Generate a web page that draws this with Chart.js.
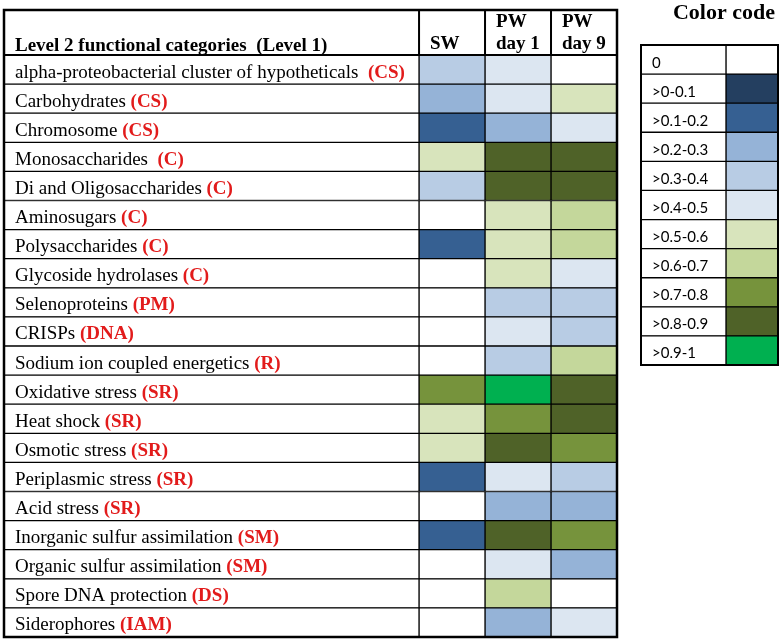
<!DOCTYPE html>
<html>
<head>
<meta charset="utf-8">
<script src="https://cdn.jsdelivr.net/npm/chart.js@4"></script>
<style>
  html, body { margin: 0; padding: 0; background: #fff; }
  #wrap { position: relative; width: 784px; height: 643px; }
  #chart-table { position: absolute; left: 0; top: 0; }
  #chart-key { position: absolute; left: 636px; top: 40px; }
</style>
</head>
<body>
<div id="wrap">
  <canvas id="chart-table" width="784" height="643"></canvas>
  <canvas id="chart-key" width="146" height="330"></canvas>
</div>
<script>
/* heatmap table: level 2 functional categories vs sample */

const rowNames = [
  'alpha-proteobacterial cluster of hypotheticals  ',
  'Carbohydrates ',
  'Chromosome ',
  'Monosaccharides  ',
  'Di and Oligosaccharides ',
  'Aminosugars ',
  'Polysaccharides ',
  'Glycoside hydrolases ',
  'Selenoproteins ',
  'CRISPs ',
  'Sodium ion coupled energetics ',
  'Oxidative stress ',
  'Heat shock ',
  'Osmotic stress ',
  'Periplasmic stress ',
  'Acid stress ',
  'Inorganic sulfur assimilation ',
  'Organic sulfur assimilation ',
  'Spore DNA protection ',
  'Siderophores '
];
const rowLevels = ['CS', 'CS', 'CS', 'C', 'C', 'C', 'C', 'C', 'PM', 'DNA', 'R',
  'SR', 'SR', 'SR', 'SR', 'SR', 'SM', 'SM', 'DS', 'IAM'];

const headerTitle = 'Level 2 functional categories  (Level 1)';
const columnHeaders = [['SW'], ['PW', 'day 1'], ['PW', 'day 9']];

// estimated fractions (mid of each colour bin)
const swValues  = [0.35, 0.25, 0.15, 0.55, 0.35, 0, 0.15, 0, 0, 0, 0, 0.75, 0.55, 0.55, 0.15, 0, 0.15, 0, 0, 0];
const pw1Values = [0.45, 0.45, 0.25, 0.85, 0.85, 0.55, 0.55, 0.55, 0.35, 0.45, 0.35, 0.95, 0.75, 0.85, 0.45, 0.25, 0.85, 0.45, 0.65, 0.25];
const pw9Values = [0, 0.55, 0.45, 0.85, 0.85, 0.65, 0.65, 0.45, 0.35, 0.35, 0.65, 0.85, 0.85, 0.75, 0.35, 0.25, 0.75, 0.25, 0, 0.45];

const keyTitle = 'Color code';
const binLabels = ['0', '>0-0.1', '>0.1-0.2', '>0.2-0.3', '>0.3-0.4', '>0.4-0.5',
  '>0.5-0.6', '>0.6-0.7', '>0.7-0.8', '>0.8-0.9', '>0.9-1'];
const binColors = ['#FFFFFF', '#243F60', '#366092', '#95B3D7', '#B8CCE4', '#DCE6F1',
  '#D8E4BC', '#C4D79B', '#76933C', '#4F6228', '#00B050'];

const SERIF = "'Liberation Serif', 'Times New Roman', serif";
const RED = '#E21B1B';
const LABEL_COL = -6.29;   // width of the name column in data-column units

function colorFor(v) {
  if (v <= 0) return binColors[0];
  return binColors[Math.min(10, Math.ceil(v * 10 - 1e-9))];
}

function cellDataset(values, col) {
  return {
    data: values.map(() => [col, col + 1]),
    backgroundColor: values.map(colorFor),
    borderColor: '#000',
    borderWidth: 1,
    borderSkipped: false,
    grouped: false,
    barPercentage: 1,
    categoryPercentage: 1
  };
}

const tableDecor = {
  id: 'tableDecor',
  afterDatasetsDraw(chart) {
    const { ctx, chartArea: { left, right, top, bottom }, scales: { x, y } } = chart;
    const tableTop = 10;
    ctx.save();
    ctx.strokeStyle = '#000';
    ctx.lineWidth = 2.5;
    ctx.strokeRect(left, tableTop, right - left, bottom - tableTop);
    ctx.lineWidth = 2;
    ctx.beginPath();
    ctx.moveTo(left, top); ctx.lineTo(right, top);
    [0, 1, 2].forEach(c => {
      const px = x.getPixelForValue(c);
      ctx.moveTo(px, tableTop); ctx.lineTo(px, top);
    });
    ctx.stroke();

    // header
    ctx.fillStyle = '#000';
    ctx.textBaseline = 'alphabetic';
    ctx.font = 'bold 19px ' + SERIF;
    ctx.fillText(headerTitle, left + 11, top - 4);
    columnHeaders.forEach((lines, c) => {
      const px = x.getPixelForValue(c) + 11;
      if (lines.length === 1) {
        ctx.fillText(lines[0], px, top - 6);
      } else {
        ctx.fillText(lines[0], px, top - 28);
        ctx.fillText(lines[1], px, top - 6);
      }
    });

    // row labels
    rowNames.forEach((name, i) => {
      const yc = y.getPixelForValue(i) + 8;
      ctx.font = '19px ' + SERIF;
      ctx.fillStyle = '#000';
      ctx.fillText(name, left + 11, yc);
      const w = ctx.measureText(name).width;
      ctx.font = 'bold 19px ' + SERIF;
      ctx.fillStyle = RED;
      ctx.fillText('(' + rowLevels[i] + ')', left + 11 + w, yc);
    });

    // key title
    ctx.fillStyle = '#000';
    ctx.font = 'bold 22px ' + SERIF;
    ctx.textAlign = 'center';
    ctx.fillText(keyTitle, 724, 19);
    ctx.restore();
  }
};

new Chart(document.getElementById('chart-table'), {
  type: 'bar',
  data: {
    labels: rowNames,
    datasets: [
      {
        data: rowNames.map(() => [LABEL_COL, 0]),
        backgroundColor: '#FFFFFF',
        borderColor: '#000',
        borderWidth: 1,
        borderSkipped: false,
        grouped: false,
        barPercentage: 1,
        categoryPercentage: 1
      },
      cellDataset(swValues, 0),
      cellDataset(pw1Values, 1),
      cellDataset(pw9Values, 2)
    ]
  },
  options: {
    indexAxis: 'y',
    responsive: false,
    animation: false,
    layout: { padding: { left: 4, top: 55, right: 167, bottom: 6 } },
    plugins: { legend: { display: false }, tooltip: { enabled: false } },
    scales: {
      x: { type: 'linear', min: LABEL_COL, max: 3, display: false },
      y: { type: 'category', display: false }
    }
  },
  plugins: [tableDecor]
});

const keyDecor = {
  id: 'keyDecor',
  afterDatasetsDraw(chart) {
    const { ctx, chartArea: { left, right, top, bottom }, scales: { y } } = chart;
    ctx.save();
    ctx.strokeStyle = '#000';
    ctx.lineWidth = 2;
    ctx.strokeRect(left, top, right - left, bottom - top);
    ctx.fillStyle = '#000';
    ctx.font = "15px Lato, 'Open Sans', sans-serif";
    ctx.textBaseline = 'alphabetic';
    binLabels.forEach((lab, i) => {
      ctx.fillText(lab, left + 11, y.getPixelForValue(i) + 8);
    });
    ctx.restore();
  }
};

new Chart(document.getElementById('chart-key'), {
  type: 'bar',
  data: {
    labels: binLabels,
    datasets: [
      {
        data: binLabels.map(() => [-1.635, 0]),
        backgroundColor: '#FFFFFF',
        borderColor: '#000',
        borderWidth: 1,
        borderSkipped: false,
        grouped: false,
        barPercentage: 1,
        categoryPercentage: 1
      },
      {
        data: binLabels.map(() => [0, 1]),
        backgroundColor: binColors,
        borderColor: '#000',
        borderWidth: 1,
        borderSkipped: false,
        grouped: false,
        barPercentage: 1,
        categoryPercentage: 1
      }
    ]
  },
  options: {
    indexAxis: 'y',
    responsive: false,
    animation: false,
    layout: { padding: { left: 5, top: 5, right: 4, bottom: 5 } },
    plugins: { legend: { display: false }, tooltip: { enabled: false } },
    scales: {
      x: { type: 'linear', min: -1.635, max: 1, display: false },
      y: { type: 'category', display: false }
    }
  },
  plugins: [keyDecor]
});
</script>
</body>
</html>
